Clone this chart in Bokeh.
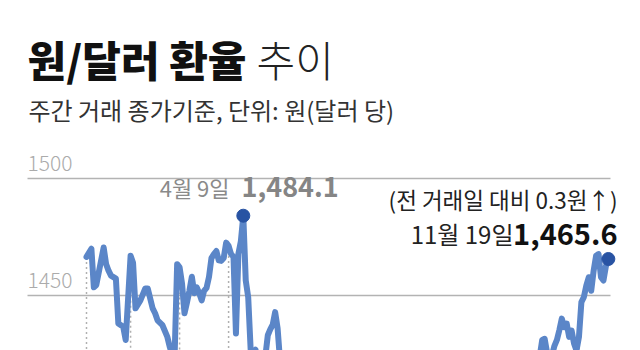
from bokeh.plotting import figure
from bokeh.models import Range1d, Label, ColumnDataSource
from bokeh.embed import file_html
from bokeh.resources import INLINE
import numpy as np

# ---- data (trading-day index since 2 Jan 2025, KRW per USD, daytime close) ----
trade_day = [0, 2, 3, 4, 7, 8, 9, 10, 12, 13, 15, 16, 18, 19, 20, 22, 24, 25, 27, 28,
             29, 31, 33, 34, 35, 36, 37, 38, 39, 40, 41, 42, 43, 44, 45, 46, 47, 48, 49, 50,
             51, 52, 53, 54, 55, 56, 57, 58, 59, 60, 61, 62, 63, 64, 65, 66, 67, 68, 69, 70,
             71, 72, 73, 74, 75, 76, 77, 78, 79, 80, 83, 86, 89, 92, 95, 99, 103, 107, 111, 115,
             118, 122, 126, 130, 134, 138, 141, 145, 149, 153, 157, 161, 165, 169, 173, 177, 181, 183, 184, 185,
             186, 187, 188, 189, 190, 191, 192, 193, 194, 195, 196, 197, 198, 199, 200, 201, 202, 203, 204, 205,
             206, 207, 208, 209, 210, 211, 212, 213]
rate = [1466.5, 1470.0, 1453.5, 1454.5, 1470.5, 1463.5, 1460.6, 1458.5, 1457.2, 1438.0,
        1436.6, 1431.0, 1467.0, 1464.0, 1444.5, 1447.9, 1453.0, 1453.0, 1444.5, 1442.4,
        1439.4, 1437.3, 1432.3, 1428.0, 1424.5, 1425.5, 1463.4, 1462.0, 1455.0, 1442.4,
        1447.0, 1452.0, 1458.0, 1451.0, 1453.5, 1451.0, 1447.9, 1452.0, 1453.3, 1458.0,
        1466.0, 1467.7, 1469.0, 1465.0, 1464.8, 1466.0, 1472.6, 1471.2, 1467.7, 1466.5,
        1433.8, 1467.8, 1473.2, 1484.1, 1456.4, 1449.3, 1427.0, 1425.5, 1426.8, 1421.0,
        1421.0, 1423.0, 1424.0, 1433.0, 1435.5, 1437.5, 1442.9, 1436.0, 1422.0, 1405.0,
        1398.0, 1400.0, 1395.0, 1390.0, 1385.0, 1385.0, 1370.0, 1365.0, 1360.0, 1368.0,
        1365.0, 1362.0, 1372.0, 1378.0, 1385.0, 1388.0, 1390.0, 1387.0, 1390.0, 1388.0,
        1395.0, 1395.0, 1388.0, 1390.0, 1385.0, 1395.0, 1400.0, 1402.0, 1410.0, 1424.0,
        1431.0, 1431.5, 1425.5, 1424.0, 1424.5, 1428.5, 1431.0, 1435.2, 1440.1, 1436.5,
        1438.0, 1432.3, 1435.0, 1429.5, 1426.5, 1432.3, 1447.2, 1449.3, 1454.2, 1457.8,
        1452.0, 1460.6, 1467.0, 1467.7, 1457.8, 1456.4, 1462.5, 1465.6]
month_start_days = [0, 18, 38, 58, 80, 99, 118, 141, 161, 183, 201]
y_ticks = [1450, 1500]
y_tick_labels = ["1450", "1500"]

title_bold = "원/달러 환율"
title_light = "추이"
subtitle = "주간 거래 종가기준, 단위: 원(달러 당)"
peak_date_text = "4월 9일"
peak_value_text = "1,484.1"
last_change_text = "(전 거래일 대비 0.3원↑)"
last_date_text = "11월 19일"
last_value_text = "1,465.6"

# ---- layout constants (pixels) ----
W, H = 640, 350
PXU = 2.34          # px per won
PXI = 2.45          # px per trading day
X_ORIGIN_PX = 86    # pixel of trading day 0
X0 = -X_ORIGIN_PX / PXI
X1 = X0 + W / PXI
Y0 = 1450 - 55 / PXU
Y1 = Y0 + H / PXU
GRID_L, GRID_R = 27, 610

def xpx(px):
    return X0 + px / PXI

def ypx(py):
    return Y0 + (H - py) / PXU

p = figure(width=W, height=H, x_range=Range1d(X0, X1), y_range=Range1d(Y0, Y1),
           output_backend="svg", toolbar_location=None, title=None,
           min_border_left=0, min_border_right=0, min_border_top=0, min_border_bottom=0)
p.xaxis.visible = False
p.yaxis.visible = False
p.outline_line_color = None
p.xgrid.visible = False
p.ygrid.visible = False
p.background_fill_color = "white"
p.border_fill_color = "white"

# horizontal gridlines
p.segment(x0=[xpx(GRID_L)] * len(y_ticks), y0=y_ticks, x1=[xpx(GRID_R)] * len(y_ticks), y1=y_ticks,
          line_color="#b3b3b3", line_width=1.5)

# dotted month markers
m_vals = list(np.interp(month_start_days, trade_day, rate))
p.segment(x0=month_start_days, y0=m_vals, x1=month_start_days, y1=[Y0 - 10] * len(month_start_days),
          line_color="#b0b0b0", line_width=1.5, line_dash="2 3")

src = ColumnDataSource(data=dict(day=trade_day, rate=rate))
p.line(x="day", y="rate", source=src, line_width=6, line_color="#5b86c8",
       line_join="round", line_cap="round")

peak_i = int(np.argmax(rate))
p.scatter(x=[trade_day[peak_i], trade_day[-1]], y=[rate[peak_i], rate[-1]],
          size=13, color="#2853a3")

KR = "Noto Sans CJK KR"
KR_BLACK = "'Noto Sans CJK KR Black', 'Noto Sans CJK KR'"
KR_LIGHT = "'Noto Sans CJK KR Light', 'Noto Sans CJK KR'"

for t, lab in zip(y_ticks, y_tick_labels):
    p.add_layout(Label(x=xpx(GRID_L), y=t + 16 / PXU, text=lab, text_font=KR_LIGHT,
                       text_font_size="21px", text_color="#ababab",
                       text_align="left", text_baseline="middle"))

p.add_layout(Label(x=xpx(27), y=ypx(58), text=title_bold, text_font=KR_BLACK, text_font_size="42px",
                   text_font_style="bold", text_color="#111111",
                   text_align="left", text_baseline="middle"))
p.add_layout(Label(x=xpx(256), y=ypx(58), text=title_light, text_font=KR_LIGHT, text_font_size="42px",
                   text_color="#222222", text_align="left", text_baseline="middle"))
p.add_layout(Label(x=xpx(28), y=ypx(109), text=subtitle, text_font=KR, text_font_size="24px",
                   text_color="#333333", text_align="left", text_baseline="middle"))

p.add_layout(Label(x=xpx(229), y=ypx(186), text=peak_date_text, text_font=KR, text_font_size="22px",
                   text_color="#8a8a8a", text_align="right", text_baseline="middle"))
p.add_layout(Label(x=xpx(241), y=ypx(186), text=peak_value_text, text_font=KR, text_font_size="27px",
                   text_font_style="bold", text_color="#858585",
                   text_align="left", text_baseline="middle"))

p.add_layout(Label(x=xpx(617), y=ypx(198), text=last_change_text, text_font=KR, text_font_size="22.5px",
                   text_color="#222222", text_align="right", text_baseline="middle"))
p.add_layout(Label(x=xpx(513), y=ypx(233), text=last_date_text, text_font=KR, text_font_size="24px",
                   text_color="#222222", text_align="right", text_baseline="middle"))
p.add_layout(Label(x=xpx(617), y=ypx(233), text=last_value_text, text_font=KR, text_font_size="29px",
                   text_font_style="bold", text_color="#111111",
                   text_align="right", text_baseline="middle"))

open("out.html", "w").write(file_html(p, INLINE))
